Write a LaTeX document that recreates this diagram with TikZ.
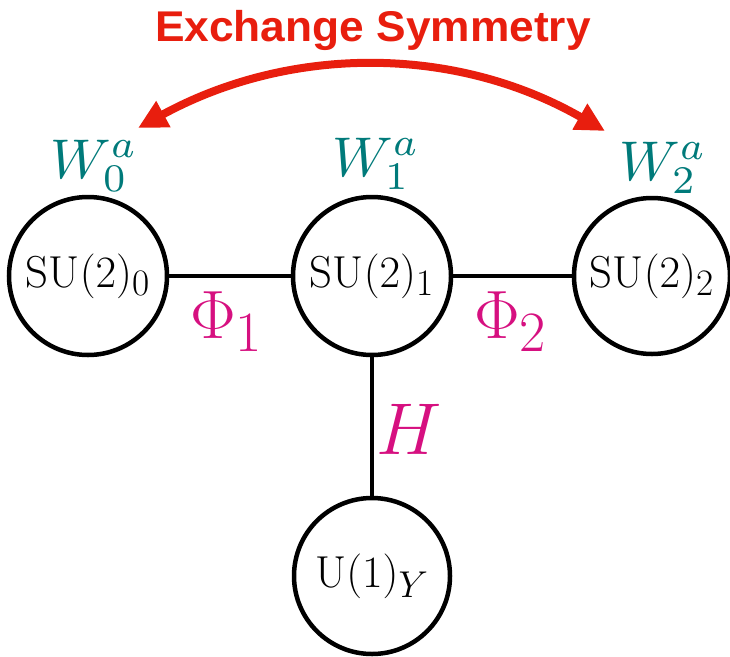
\documentclass[tikz,border=0pt]{standalone}
\usepackage{fontspec}
\usetikzlibrary{arrows.meta}
\newfontfamily\exfont{Liberation Sans}
\definecolor{exred}{RGB}{232,30,14}
\definecolor{wteal}{RGB}{0,122,122}
\definecolor{phimag}{RGB}{214,16,128}
\begin{document}
\begin{tikzpicture}[x=1pt,y=-1pt,
 group/.style={circle,draw=black,line width=4.5pt,minimum size=158pt,inner sep=0pt,font=\Huge},
 link/.style={line width=3.8pt},
 wlabel/.style={anchor=base west,inner sep=0pt,text=wteal,font=\normalsize},
 philabel/.style={anchor=base west,inner sep=0pt,text=phimag,font=\Huge},
 hlabel/.style={anchor=base west,inner sep=0pt,text=phimag,font=\Huge},
 extitle/.style={anchor=base,inner sep=0pt,text=exred,font=\exfont\bfseries\fontsize{43}{48}\selectfont},
 exarrow/.style={draw=exred,line width=8pt,{Triangle[length=29pt,width=28pt]}-{Triangle[length=29pt,width=28pt]}}
]
\useasboundingbox (0,0) rectangle (730,656);
\node[group] (L) at (88,276) {\scalebox{1.8}{$\mathrm{SU}(2)_0$}};
\node[group] (M) at (372,276) {\scalebox{1.8}{$\mathrm{SU}(2)_1$}};
\node[group,minimum size=156pt] (R) at (652,276) {\scalebox{1.8}{$\mathrm{SU}(2)_2$}};
\node[group,minimum size=156pt] (B) at (372,576) {\scalebox{1.8}{$\mathrm{U}(1)_Y$}};
\draw[link] (L) -- (M);
\draw[link] (M) -- (R);
\draw[link] (M) -- (B);
\node[wlabel] (w0) at (50,178) {\scalebox{5.6}{$W_0^a$}};
\node[wlabel] (w1) at (332,176) {\scalebox{5.6}{$W_1^a$}};
\node[wlabel] (w2) at (619,180) {\scalebox{5.6}{$W_2^a$}};
\node[philabel] (p1) at (190,338) {\scalebox{2.75}{$\Phi_1$}};
\node[philabel] (p2) at (474,338) {\scalebox{2.75}{$\Phi_2$}};
\node[hlabel] (h) at (376,454) {\scalebox{2.95}{$H$}};
\node[extitle] (ex) at (373,41) {\scalebox{1.03}[1]{Exchange Symmetry}};
\coordinate (a0) at (138,128);
\coordinate (a2) at (605,131);
\draw[exarrow] (a0) .. controls (290,45) and (455,45) .. (a2);
\end{tikzpicture}
\end{document}
